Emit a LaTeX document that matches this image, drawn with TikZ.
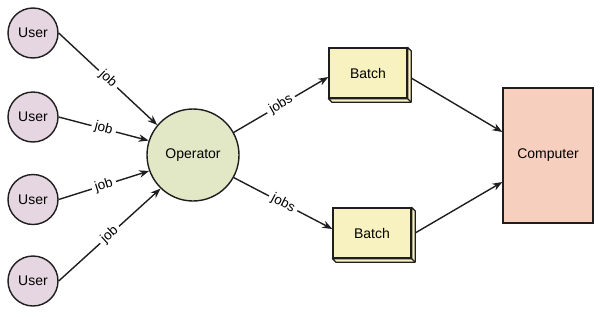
\documentclass[tikz,border=0pt]{standalone}
\usepackage{fontspec}
\setmainfont{Liberation Sans}
\usetikzlibrary{arrows.meta}
\definecolor{userfill}{HTML}{E6D6E1}
\definecolor{opfill}{HTML}{E2E7C6}
\definecolor{batchfill}{HTML}{F8F1C0}
\definecolor{compfill}{HTML}{F7CFBE}
\definecolor{edgecol}{HTML}{1E1E1E}
\begin{document}
\begin{tikzpicture}[x=1pt,y=-1pt,
  txt/.style={font=\fontsize{14}{16}\selectfont},
  userc/.style={circle,draw=edgecol,line width=1.4pt,fill=userfill,minimum size=50pt,inner sep=0pt,txt},
  opc/.style={circle,draw=edgecol,line width=1.4pt,fill=opfill,minimum size=92pt,inner sep=0pt,txt},
  batchbox/.style={rectangle,draw=edgecol,line width=1.3pt,fill=batchfill,minimum width=78pt,minimum height=50pt,inner sep=0pt,txt},
  compbox/.style={rectangle,draw=edgecol,line width=1.3pt,fill=compfill,minimum width=90pt,minimum height=135pt,inner sep=0pt,txt},
  conn/.style={draw=edgecol,line width=1.4pt,-{Stealth[length=10pt,width=7.5pt]}},
  lbl/.style={fill=white,inner sep=3.5pt,sloped,midway,font=\fontsize{13.5}{15}\selectfont},
  side/.style={fill=batchfill,draw=edgecol,line width=1.3pt,line join=round}
]
\useasboundingbox (0,0) rectangle (602,316);

\node[userc] (u1) at (33,33) {User};
\node[userc] (u2) at (33,117) {User};
\node[userc] (u3) at (33,199.5) {User};
\node[userc] (u4) at (33,281) {User};

\node[opc] (op) at (193,155) {Operator};

\node[batchbox] (bt) at (368,73) {Batch};
\node[batchbox] (bb) at (372,233) {Batch};

\node[compbox] (cp) at (548,155.5) {Computer};

% 3D sides of batch boxes
\foreach \b in {bt,bb}{
  \draw[side] (\b.north east) -- ([shift={(3.5pt,-3.5pt)}]\b.north east)
     -- ([shift={(3.5pt,-3.5pt)}]\b.south east) -- ([shift={(3.5pt,-3.5pt)}]\b.south west)
     -- (\b.south west) -- (\b.south east) -- cycle;
  \draw[edgecol,line width=1.3pt] (\b.south east) -- ([shift={(3.5pt,-3.5pt)}]\b.south east);
}

\draw[conn] (u1.east) -- node[lbl] {job} (op.140);
\draw[conn] (u2.east) -- node[lbl] {job} (op.162);
\draw[conn] (u3.east) -- node[lbl] {job} (op.200);
\draw[conn] (u4.east) -- node[lbl] {job} (op.226);

\draw[conn] (op.29) -- node[lbl] {jobs} ([yshift=-4pt]bt.west);
\draw[conn] (op.-29) -- node[lbl] {jobs} ([yshift=4pt]bb.west);

\draw[conn] ([shift={(3.5pt,-5pt)}]bt.east) -- ([yshift=23.5pt]cp.west);
\draw[conn] ([shift={(3.5pt,0pt)}]bb.east) -- ([yshift=-26.5pt]cp.west);
\end{tikzpicture}
\end{document}
